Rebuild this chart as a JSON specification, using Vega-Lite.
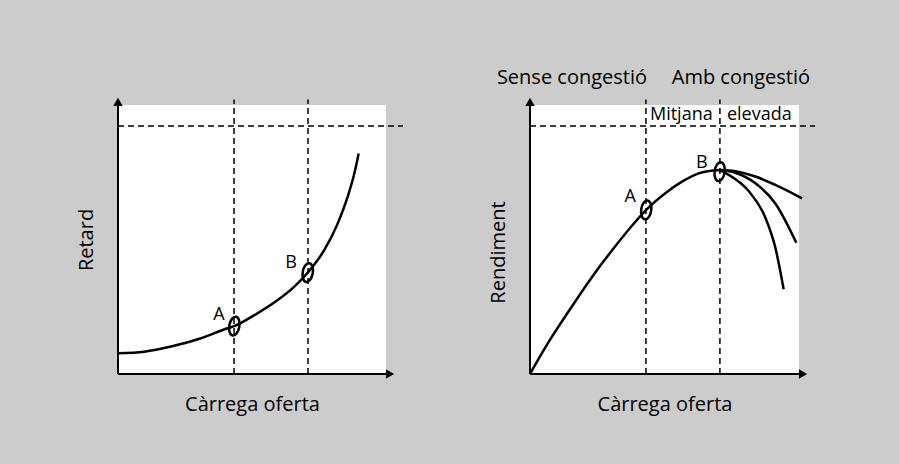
{
  "$schema": "https://vega.github.io/schema/vega-lite/v6.json",
  "background": "#cccccc",
  "padding": {"left": 76, "top": 68, "right": 83, "bottom": 52},
  "spacing": 84,
  "config": {
    "font": "Open Sans",
    "view": {"fill": "white", "stroke": null},
    "axis": {"titleFontSize": 20, "titleFontWeight": "normal", "titleColor": "black", "titleFont": "Open Sans", "domain": false, "ticks": false, "labels": false, "grid": false},
    "text": {"color": "black"}
  },
  "hconcat": [
    {
      "width": 268,
      "height": 269,
      "encoding": {
        "x": {"field": "x", "type": "quantitative", "scale": {"domain": [0, 100], "nice": false, "zero": false}, "axis": {"title": "Càrrega oferta", "titlePadding": 20}},
        "y": {"field": "y", "type": "quantitative", "scale": {"domain": [0, 100], "nice": false, "zero": false}, "axis": {"title": "Retard", "titlePadding": 22}}
      },
      "layer": [
        {
          "data": {"values": [
            {"x": 0, "y": 92.2, "x2": 106.3, "y2": 92.2},
            {"x": 43.3, "y": 0, "x2": 43.3, "y2": 102},
            {"x": 70.9, "y": 0, "x2": 70.9, "y2": 102}
          ]},
          "mark": {"type": "rule", "strokeDash": [6, 4], "strokeWidth": 1.5, "color": "black"},
          "encoding": {"x2": {"field": "x2"}, "y2": {"field": "y2"}}
        },
        {
          "data": {"values": [
            {"x": 0, "y": 0, "x2": 101, "y2": 0},
            {"x": 0, "y": 0, "x2": 0, "y2": 100.5}
          ]},
          "mark": {"type": "rule", "strokeWidth": 2, "color": "black"},
          "encoding": {"x2": {"field": "x2"}, "y2": {"field": "y2"}}
        },
        {
          "data": {"values": [{"x": 101.5, "y": 0}]},
          "mark": {"type": "point", "shape": "triangle-right", "filled": true, "color": "black", "size": 90, "opacity": 1}
        },
        {
          "data": {"values": [{"x": 0, "y": 101.2}]},
          "mark": {"type": "point", "shape": "triangle-up", "filled": true, "color": "black", "size": 90, "opacity": 1}
        },
        {
          "data": {"values": [
            {"x": 0, "y": 7.7}, {"x": 9.8, "y": 8.3}, {"x": 19.8, "y": 10.2}, {"x": 31.0, "y": 13.3},
            {"x": 40.9, "y": 17.0}, {"x": 43.4, "y": 17.8}, {"x": 50.9, "y": 21.9}, {"x": 59.6, "y": 27.5},
            {"x": 65.8, "y": 32.5}, {"x": 70.8, "y": 37.7}, {"x": 77.0, "y": 46.1}, {"x": 82.0, "y": 56.0},
            {"x": 85.7, "y": 65.9}, {"x": 88.2, "y": 74.6}, {"x": 89.8, "y": 82.0}
          ]},
          "mark": {"type": "line", "interpolate": "monotone", "strokeWidth": 2.5, "color": "black"}
        },
        {
          "data": {"values": [{"x": 43.4, "y": 17.8}, {"x": 70.8, "y": 37.7}]},
          "mark": {"type": "point", "shape": "M0,-1C0.2927,-1 0.53,-0.5523 0.53,0C0.53,0.5523 0.2927,1 0,1C-0.2927,1 -0.53,0.5523 -0.53,0C-0.53,-0.5523 -0.2927,-1 0,-1Z", "filled": false, "color": "black", "strokeWidth": 2.5, "size": 361, "angle": 10, "opacity": 1}
        },
        {
          "data": {"values": [{"x": 37.7, "y": 21.9, "label": "A"}, {"x": 64.6, "y": 41.3, "label": "B"}]},
          "mark": {"type": "text", "fontSize": 18, "align": "center", "baseline": "middle"},
          "encoding": {"text": {"field": "label"}}
        }
      ]
    },
    {
      "width": 269,
      "height": 269,
      "encoding": {
        "x": {"field": "x", "type": "quantitative", "scale": {"domain": [0, 100], "nice": false, "zero": false}, "axis": {"title": "Càrrega oferta", "titlePadding": 20}},
        "y": {"field": "y", "type": "quantitative", "scale": {"domain": [0, 100], "nice": false, "zero": false}, "axis": {"title": "Rendiment", "titlePadding": 22, "titleY": 147}}
      },
      "layer": [
        {
          "data": {"values": [
            {"x": 0, "y": 92.2, "x2": 106, "y2": 92.2},
            {"x": 43.1, "y": 0, "x2": 43.1, "y2": 102},
            {"x": 70.6, "y": 0, "x2": 70.6, "y2": 102}
          ]},
          "mark": {"type": "rule", "strokeDash": [6, 4], "strokeWidth": 1.5, "color": "black"},
          "encoding": {"x2": {"field": "x2"}, "y2": {"field": "y2"}}
        },
        {
          "data": {"values": [
            {"x": 0, "y": 0, "x2": 101, "y2": 0},
            {"x": 0, "y": 0, "x2": 0, "y2": 100.5}
          ]},
          "mark": {"type": "rule", "strokeWidth": 2, "color": "black"},
          "encoding": {"x2": {"field": "x2"}, "y2": {"field": "y2"}}
        },
        {
          "data": {"values": [{"x": 101.5, "y": 0}]},
          "mark": {"type": "point", "shape": "triangle-right", "filled": true, "color": "black", "size": 90, "opacity": 1}
        },
        {
          "data": {"values": [{"x": 0, "y": 101.2}]},
          "mark": {"type": "point", "shape": "triangle-up", "filled": true, "color": "black", "size": 90, "opacity": 1}
        },
        {
          "data": {"values": [
            {"x": 0, "y": 0, "s": "main"}, {"x": 7, "y": 12, "s": "main"}, {"x": 14.5, "y": 23.5, "s": "main"},
            {"x": 23, "y": 36, "s": "main"}, {"x": 31.7, "y": 47.5, "s": "main"}, {"x": 39.1, "y": 56.5, "s": "main"},
            {"x": 43.2, "y": 61, "s": "main"}, {"x": 50.3, "y": 67.2, "s": "main"}, {"x": 56.5, "y": 71.5, "s": "main"},
            {"x": 62.7, "y": 74.6, "s": "main"}, {"x": 70.5, "y": 75.8, "s": "main"},
            {"x": 70.5, "y": 75.8, "s": "up"}, {"x": 76.3, "y": 75.4, "s": "up"}, {"x": 83.8, "y": 73.4, "s": "up"},
            {"x": 91.2, "y": 70.3, "s": "up"}, {"x": 101.1, "y": 65.3, "s": "up"},
            {"x": 70.5, "y": 75.8, "s": "mid"}, {"x": 76.3, "y": 74.8, "s": "mid"}, {"x": 83.8, "y": 70.9, "s": "mid"},
            {"x": 91.2, "y": 63.4, "s": "mid"}, {"x": 99.0, "y": 48.8, "s": "mid"},
            {"x": 70.5, "y": 75.8, "s": "low"}, {"x": 73.9, "y": 74.0, "s": "low"}, {"x": 81.3, "y": 68.0, "s": "low"},
            {"x": 87.5, "y": 58.1, "s": "low"}, {"x": 91.2, "y": 47.0, "s": "low"}, {"x": 94.3, "y": 31.5, "s": "low"}
          ]},
          "mark": {"type": "line", "interpolate": "monotone", "strokeWidth": 2.5, "color": "black"},
          "encoding": {"detail": {"field": "s"}}
        },
        {
          "data": {"values": [{"x": 43.2, "y": 61}, {"x": 70.5, "y": 75.2}]},
          "mark": {"type": "point", "shape": "M0,-1C0.2927,-1 0.53,-0.5523 0.53,0C0.53,0.5523 0.2927,1 0,1C-0.2927,1 -0.53,0.5523 -0.53,0C-0.53,-0.5523 -0.2927,-1 0,-1Z", "filled": false, "color": "black", "strokeWidth": 2.5, "size": 361, "angle": 8, "opacity": 1}
        },
        {
          "data": {"values": [{"x": 37.2, "y": 65.8, "label": "A"}, {"x": 63.9, "y": 78.4, "label": "B"}]},
          "mark": {"type": "text", "fontSize": 18, "align": "center", "baseline": "middle"},
          "encoding": {"text": {"field": "label"}}
        },
        {
          "data": {"values": [{"x": 15.6, "y": 110, "label": "Sense congestió"}, {"x": 78.4, "y": 110, "label": "Amb congestió"}]},
          "mark": {"type": "text", "fontSize": 20, "align": "center", "baseline": "middle"},
          "encoding": {"text": {"field": "label"}}
        },
        {
          "data": {"values": [{"x": 44.6, "y": 96.3, "label": "Mitjana"}, {"x": 73.2, "y": 96.3, "label": "elevada"}]},
          "mark": {"type": "text", "fontSize": 18, "align": "left", "baseline": "middle"},
          "encoding": {"text": {"field": "label"}}
        }
      ]
    }
  ]
}
